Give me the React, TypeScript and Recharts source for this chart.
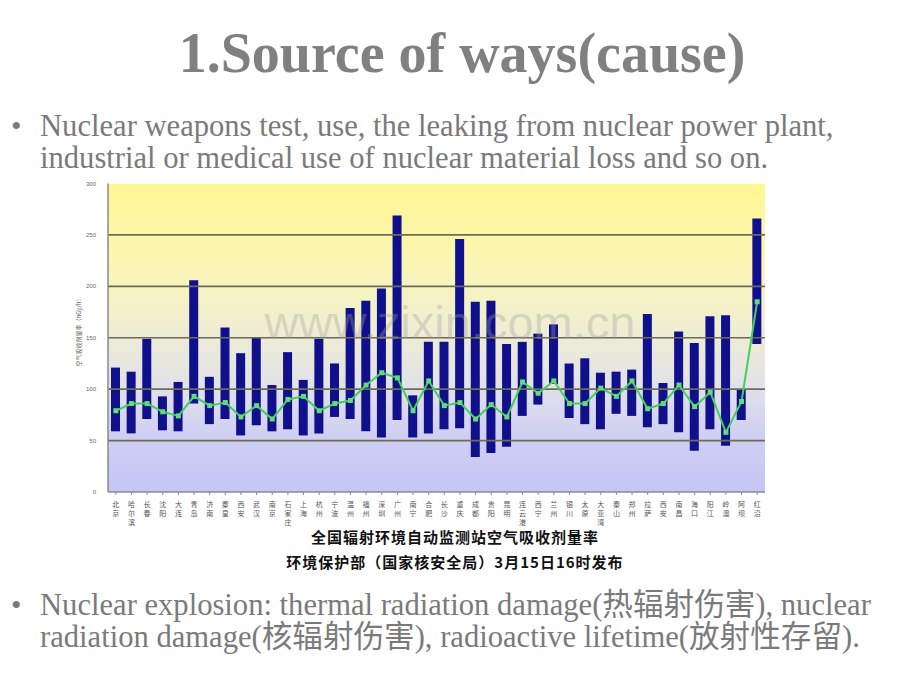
import React from 'react';
import { ComposedChart, Bar, Line, XAxis, YAxis, ReferenceLine } from 'recharts';

const cities = [
  '北京', '哈尔滨', '长春', '沈阳', '大连', '青岛', '济南', '秦皇', '西安', '武汉',
  '南京', '石家庄', '上海', '杭州', '宁波', '温州', '福州', '深圳', '广州', '南宁',
  '合肥', '长沙', '重庆', '成都', '贵阳', '昆明', '连云港', '西宁', '兰州', '银川',
  '太原', '大亚湾', '秦山', '郑州', '拉萨', '西安', '南昌', '海口', '阳江', '岭澳',
  '阿坝', '红沿',
];

const maxVals = [
  121, 117, 149, 93, 107, 206, 112, 160, 135, 150,
  104, 136, 109, 149, 125, 179, 186, 198, 269, 94,
  146, 146, 246, 185, 186, 144, 146, 154, 163, 125,
  130, 116, 117, 119, 173, 106, 156, 145, 171, 172,
  100, 266,
];

const minVals = [
  59, 57, 71, 60, 59, 86, 66, 71, 55, 65,
  59, 61, 55, 57, 73, 71, 59, 53, 70, 53,
  57, 61, 62, 34, 38, 44, 74, 85, 105, 72,
  66, 61, 76, 74, 63, 66, 58, 40, 61, 45,
  70, 144,
];

const avgVals = [
  79, 86, 86, 78, 74, 93, 84, 87, 73, 84,
  71, 90, 93, 79, 86, 89, 104, 116, 111, 79,
  108, 84, 87, 71, 85, 73, 107, 96, 108, 86,
  86, 101, 93, 108, 81, 86, 104, 83, 97, 58,
  88, 185,
];

const yTicks = [0, 50, 100, 150, 200, 250, 300];
const gridVals = [50, 100, 150, 200, 250];

const data = cities.map((name, i) => ({
  name: name + '#' + i,
  range: [minVals[i], maxVals[i]],
  avg: avgVals[i],
}));

const CityTick = (props: any) => {
  const { x, y, payload } = props;
  const label = String(payload.value).split('#')[0];
  const chars = label.split('');
  return (
    <g>
      {chars.map((ch, i) => (
        <text
          key={i}
          x={x}
          y={y + 10 + i * 9}
          textAnchor="middle"
          fontSize={7}
          fill="#555"
          fontFamily="'Noto Sans CJK SC', sans-serif"
        >
          {ch}
        </text>
      ))}
    </g>
  );
};

const SquareDot = (p: any) => {
  if (p.cx == null || p.cy == null) return <g key={p.key} />;
  return <rect key={p.key} x={p.cx - 2.5} y={p.cy - 2.5} width={5} height={5} fill="#62dc74" />;
};

const serif = "'Liberation Serif', 'Noto Sans CJK SC', serif";
const textColor = '#7a7a7a';

const lineStyle = (top: number): React.CSSProperties => ({
  position: 'absolute',
  left: 40,
  top,
  fontFamily: serif,
  fontSize: 30.6,
  lineHeight: '30px',
  color: textColor,
  whiteSpace: 'nowrap',
});

const bulletStyle = (top: number): React.CSSProperties => ({
  position: 'absolute',
  left: 11,
  top,
  fontFamily: serif,
  fontSize: 30,
  lineHeight: '30px',
  color: textColor,
});

export default function App() {
  const chartLeft = 60;
  const chartTop = 170;
  return (
    <div style={{ position: 'absolute', left: 0, top: 0, width: 920, height: 690, background: '#fff', overflow: 'hidden' }}>
      <div
        style={{
          position: 'absolute',
          left: 0,
          width: 920,
          top: 25,
          textAlign: 'center',
          fontFamily: serif,
          fontWeight: 'bold',
          fontSize: 56,
          lineHeight: '56px',
          color: '#808080',
          paddingLeft: 2,
        }}
      >
        1.Source of ways(cause)
      </div>

      <div style={bulletStyle(111)}>•</div>
      <div style={lineStyle(111)}>Nuclear weapons test, use, the leaking from nuclear power plant,</div>
      <div style={lineStyle(143)}>industrial or medical use of nuclear material loss and so on.</div>

      {/* plot background */}
      <div
        style={{
          position: 'absolute',
          left: 108,
          top: 183.5,
          width: 657,
          height: 308.5,
          background: 'linear-gradient(to bottom, #fff691 0%, #fbf6b4 25%, #f1efcf 45%, #e2e2e8 65%, #cfcff3 82%, #c6c6f6 100%)',
        }}
      />

      <div style={{ position: 'absolute', left: chartLeft, top: chartTop }}>
        <ComposedChart width={720} height={370} data={data} margin={{ top: 13.5, right: 15, left: 0, bottom: 0 }} barCategoryGap={0}>
          <XAxis
            dataKey="name"
            interval={0}
            height={48}
            tick={<CityTick />}
            axisLine={{ stroke: '#8a8a8a', strokeWidth: 1.5 }}
            tickLine={{ stroke: '#8a8a8a' }}
            tickSize={3}
          />
          <YAxis
            domain={[0, 300]}
            ticks={yTicks}
            width={48}
            interval={0}
            tick={{ fontSize: 6, fill: '#666', fontFamily: 'Liberation Sans, sans-serif' }}
            axisLine={{ stroke: '#8a8a8a', strokeWidth: 1.5 }}
            tickLine={false}
            tickMargin={6}
          />
          {gridVals.map((v) => (
            <ReferenceLine key={v} y={v} stroke="#6e6c58" strokeWidth={1.6} ifOverflow="visible" />
          ))}
          <Bar dataKey="range" fill="#10108c" barSize={9} isAnimationActive={false} />
          <Line
            type="linear"
            dataKey="avg"
            stroke="#44cf5c"
            strokeWidth={2}
            dot={<SquareDot />}
            activeDot={false}
            isAnimationActive={false}
          />
        </ComposedChart>
      </div>

      {/* y axis title */}
      <div
        style={{
          position: 'absolute',
          left: 79 - 60,
          top: 331 - 5,
          width: 120,
          height: 10,
          textAlign: 'center',
          fontSize: 6,
          lineHeight: '10px',
          color: '#666',
          fontFamily: "'Noto Sans CJK SC', sans-serif",
          transform: 'rotate(-90deg)',
          transformOrigin: '60px 5px',
          whiteSpace: 'nowrap',
        }}
      >
        空气吸收剂量率（nGy/h）
      </div>

      {/* watermark */}
      <div
        style={{
          position: 'absolute',
          left: 240,
          top: 298,
          width: 420,
          textAlign: 'center',
          fontFamily: "'Liberation Sans', sans-serif",
          fontSize: 47,
          lineHeight: '50px',
          color: 'rgba(160,160,160,0.35)',
          whiteSpace: 'nowrap',
        }}
      >
        www.zixin.com.cn
      </div>

      {/* chart title */}
      <div
        style={{
          position: 'absolute',
          left: 255,
          width: 400,
          top: 527,
          textAlign: 'center',
          fontFamily: "'Noto Sans CJK SC', sans-serif",
          fontWeight: 'bold',
          fontSize: 15,
          letterSpacing: 1,
          lineHeight: '20px',
          color: '#111',
          whiteSpace: 'nowrap',
        }}
      >
        全国辐射环境自动监测站空气吸收剂量率
      </div>
      <div
        style={{
          position: 'absolute',
          left: 255,
          width: 400,
          top: 552,
          textAlign: 'center',
          fontFamily: "'Noto Sans CJK SC', sans-serif",
          fontWeight: 'bold',
          fontSize: 15,
          letterSpacing: 1,
          lineHeight: '20px',
          color: '#111',
          whiteSpace: 'nowrap',
        }}
      >
        环境保护部（国家核安全局）3月15日16时发布
      </div>

      <div style={bulletStyle(590)}>•</div>
      <div style={lineStyle(590)}>Nuclear explosion: thermal radiation damage(热辐射伤害), nuclear</div>
      <div style={lineStyle(622)}>radiation damage(核辐射伤害), radioactive lifetime(放射性存留).</div>
    </div>
  );
}
